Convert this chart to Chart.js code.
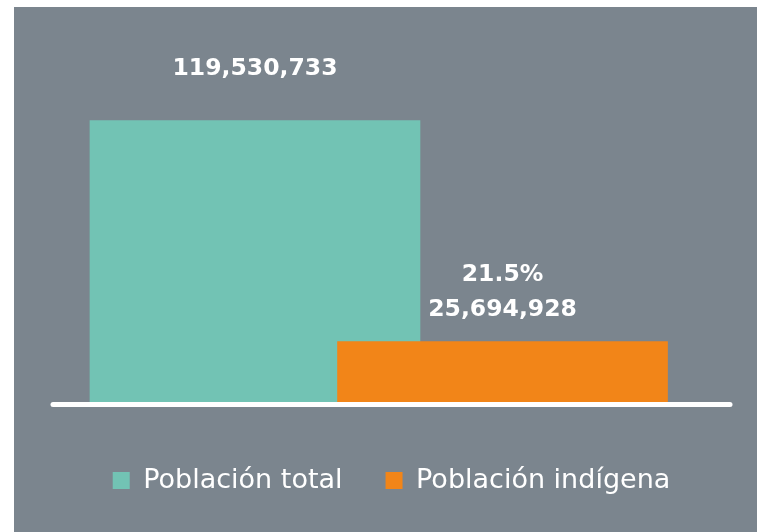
<!DOCTYPE html>
<html>
<head>
<meta charset="utf-8">
<script src="https://cdn.jsdelivr.net/npm/chart.js@4/dist/chart.umd.min.js"></script>
<style>
  html, body { margin: 0; padding: 0; background: #ffffff; overflow: hidden; width: 757px; height: 532px; }
  #wrap { position: absolute; left: 14px; top: 7px; width: 743px; height: 532px; background: #7b858e; }
  canvas { display: block; }
</style>
</head>
<body>
<div id="wrap"><canvas id="c" width="743" height="532"></canvas></div>
<script>
const categories = ['Población total', 'Población indígena'];
const positions = [0, 1];
const values = [119530733, 25694928];
const colors = ['#72c3b4', '#f28518'];

const fmt = (v) => v.toLocaleString('en-US');
const pct = (values[1] / values[0] * 100).toFixed(1) + '%';
const barLabels = [[fmt(values[0])], [pct, fmt(values[1])]];

const labelPlugin = {
  id: 'barLabels',
  afterDatasetsDraw(chart) {
    const ctx = chart.ctx;
    ctx.save();
    ctx.fillStyle = '#ffffff';
    ctx.font = 'bold 23.5px "DejaVu Sans"';
    ctx.textAlign = 'center';
    ctx.textBaseline = 'middle';
    chart.data.datasets.forEach((ds, i) => {
      const meta = chart.getDatasetMeta(i);
      const bar = meta.data[0];
      const lines = barLabels[i];
      if (i === 0) {
        ctx.fillText(lines[0], bar.x, bar.y - 52);
      } else {
        ctx.fillText(lines[0], bar.x, bar.y - 67);
        ctx.fillText(lines[1], bar.x, bar.y - 32);
      }
    });
    // baseline
    const a = chart.chartArea;
    ctx.strokeStyle = '#ffffff';
    ctx.lineWidth = 5;
    ctx.lineCap = 'round';
    ctx.beginPath();
    ctx.moveTo(a.left + 2, a.bottom + 2.5);
    ctx.lineTo(a.right - 2, a.bottom + 2.5);
    ctx.stroke();
    ctx.restore();
  }
};

new Chart(document.getElementById('c'), {
  type: 'bar',
  data: {
    datasets: categories.map((name, i) => ({
      label: name,
      data: [{ x: positions[i], y: values[i] }],
      backgroundColor: colors[i],
      borderWidth: 0,
      order: categories.length - i
    }))
  },
  options: {
    responsive: false,
    animation: false,
    layout: { padding: { left: 37, right: 25, top: 42, bottom: 35 } },
    datasets: { bar: { grouped: false, barThickness: 330 } },
    scales: {
      x: {
        type: 'linear',
        min: -0.824,
        max: 1.927,
        offset: false,
        display: true,
        grid: { display: false },
        border: { display: false },
        ticks: { display: false },
        afterFit: (s) => { s.height = 22; }
      },
      y: { min: 0, max: 150000000, display: false }
    },
    plugins: {
      tooltip: { enabled: false },
      legend: {
        position: 'bottom',
        labels: {
          color: '#ffffff',
          font: { family: '"DejaVu Sans"', size: 27, weight: '400' },
          boxWidth: 17,
          boxHeight: 17,
          padding: 43,
          sort: (a, b) => a.datasetIndex - b.datasetIndex
        }
      }
    }
  },
  plugins: [labelPlugin]
});
</script>
</body>
</html>
